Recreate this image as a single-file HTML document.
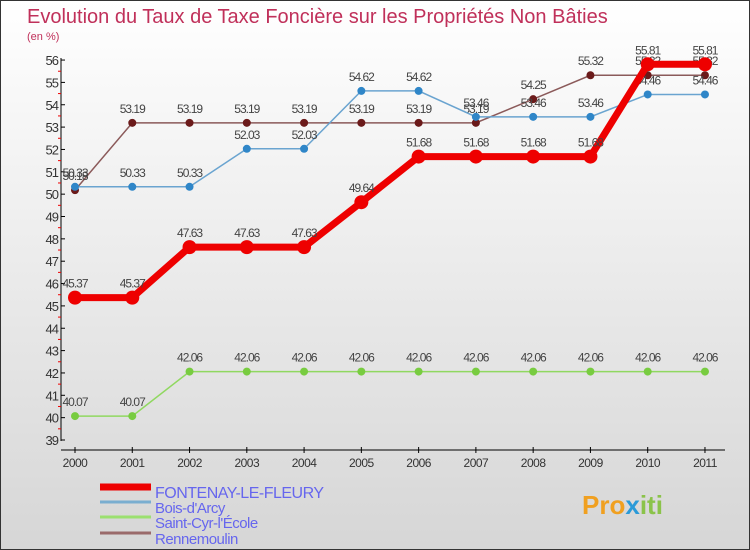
<!DOCTYPE html>
<html><head><meta charset="utf-8"><style>
body{margin:0;}
#wrap{width:750px;height:550px;position:relative;overflow:hidden;font-family:"Liberation Sans",sans-serif;}
svg{position:absolute;left:0;top:0;}
</style></head><body>
<div id="wrap">
<svg id="chart" width="750" height="550">
<defs><linearGradient id="bg" x1="0" y1="0" x2="0" y2="1"><stop offset="0" stop-color="#ffffff"/><stop offset="1" stop-color="#d6d6d6"/></linearGradient></defs>
<rect x="0.5" y="0.5" width="749" height="549" fill="url(#bg)" stroke="#333"/>
<text x="27" y="23" font-size="20" fill="#c0305a">Evolution du Taux de Taxe Foncière sur les Propriétés Non Bâties</text>
<text x="27" y="40" font-size="11" fill="#c0305a">(en %)</text>
<g id="axes"></g><g id="series"></g><g id="legend"></g>
<text x="582" y="514" font-size="26" font-weight="bold" fill="#f0a020">Pro<tspan fill="#2a9ad8">x</tspan><tspan fill="#8bc34a">iti</tspan></text>
</svg></div>
<script>
const years=[2000,2001,2002,2003,2004,2005,2006,2007,2008,2009,2010,2011];
const fontenay=[45.37,45.37,47.63,47.63,47.63,49.64,51.68,51.68,51.68,51.68,55.81,55.81];
const boisdarcy=[50.33,50.33,50.33,52.03,52.03,54.62,54.62,53.46,53.46,53.46,54.46,54.46];
const saintcyr=[40.07,40.07,42.06,42.06,42.06,42.06,42.06,42.06,42.06,42.06,42.06,42.06];
const rennemoulin=[50.18,53.19,53.19,53.19,53.19,53.19,53.19,53.19,54.25,55.32,55.32,55.32];
const yTicks=[39,40,41,42,43,44,45,46,47,48,49,50,51,52,53,54,55,56];
const NS="http://www.w3.org/2000/svg";
function xs(i){return 75+i*57.27;}
function ys(v){return 440-(v-39)*22.35;}
function mk(t,a,p){const e=document.createElementNS(NS,t);for(const k in a)e.setAttribute(k,a[k]);p.appendChild(e);return e;}
const ax=document.getElementById('axes');
let l=mk('line',{x1:61,y1:58,x2:61,y2:441,stroke:'#000'},ax);


l=mk('line',{x1:61,y1:450,x2:725,y2:450,stroke:'#000'},ax);


yTicks.forEach(v=>{
 mk('line',{x1:61,y1:ys(v),x2:65,y2:ys(v),stroke:'#000'},ax);
 if(v<56)mk('line',{x1:58,y1:ys(v+0.5),x2:61,y2:ys(v+0.5),stroke:'#e00'},ax);
 const t=mk('text',{x:58,y:ys(v)+5,'font-size':13,'text-anchor':'end',fill:'#333','letter-spacing':'-1'},ax);
 t.textContent=v;
 
 
});
years.forEach((y,i)=>{
 mk('line',{x1:xs(i),y1:447,x2:xs(i),y2:453,stroke:'#000'},ax);
 const t=mk('text',{x:xs(i),y:467,'font-size':12,'text-anchor':'middle',fill:'#333','letter-spacing':'-0.5'},ax);
 t.textContent=y;
 
 
});
const sg=document.getElementById('series');
const defs=[
 {d:rennemoulin,c:'#8b5a5a',dot:'#6b1a1a',w:1.5,r:4,name:'rennemoulin'},
 {d:boisdarcy,c:'#6aa4d0',dot:'#2f86c8',w:1.5,r:4,name:'bois-darcy'},
 {d:saintcyr,c:'#90d860',dot:'#78cc40',w:1.5,r:4,name:'saint-cyr'},
 {d:fontenay,c:'#ee0000',dot:'#ee0000',w:7,r:7,name:'fontenay'}];
defs.forEach(s=>{
 const g=mk('g',{},sg);
 
 
 const p=mk('polyline',{points:s.d.map((v,i)=>xs(i)+','+ys(v)).join(' '),fill:'none',stroke:s.c,'stroke-width':s.w},g);
 
 
 s.d.forEach((v,i)=>{
  const c=mk('circle',{cx:xs(i),cy:ys(v),r:s.r,fill:s.dot},g);
  
  
  const t=mk('text',{x:xs(i),y:ys(v)-10,'font-size':12,'text-anchor':'middle',fill:'#444','letter-spacing':'-1'},g);
  t.textContent=v.toFixed(2);
  
  
 });
});
const lg=document.getElementById('legend');
const leg=[['FONTENAY-LE-FLEURY','#ee0000',7,493,16],['Bois-d\'Arcy','#7aaed0',3,508,15],['Saint-Cyr-l\'École','#9be070',3,523,15],['Rennemoulin','#9a6a6a',3,539,15]];
leg.forEach(e=>{
 const g=mk('g',{},lg);
 
 
 mk('line',{x1:100,y1:e[3]-6,x2:151,y2:e[3]-6,stroke:e[1],'stroke-width':e[2]},g);
 const t=mk('text',{x:155,y:e[3]+5,'font-size':e[4],fill:'#6666ee','letter-spacing':'-0.5'},g);
 t.textContent=e[0];
});
</script>
</body></html>
